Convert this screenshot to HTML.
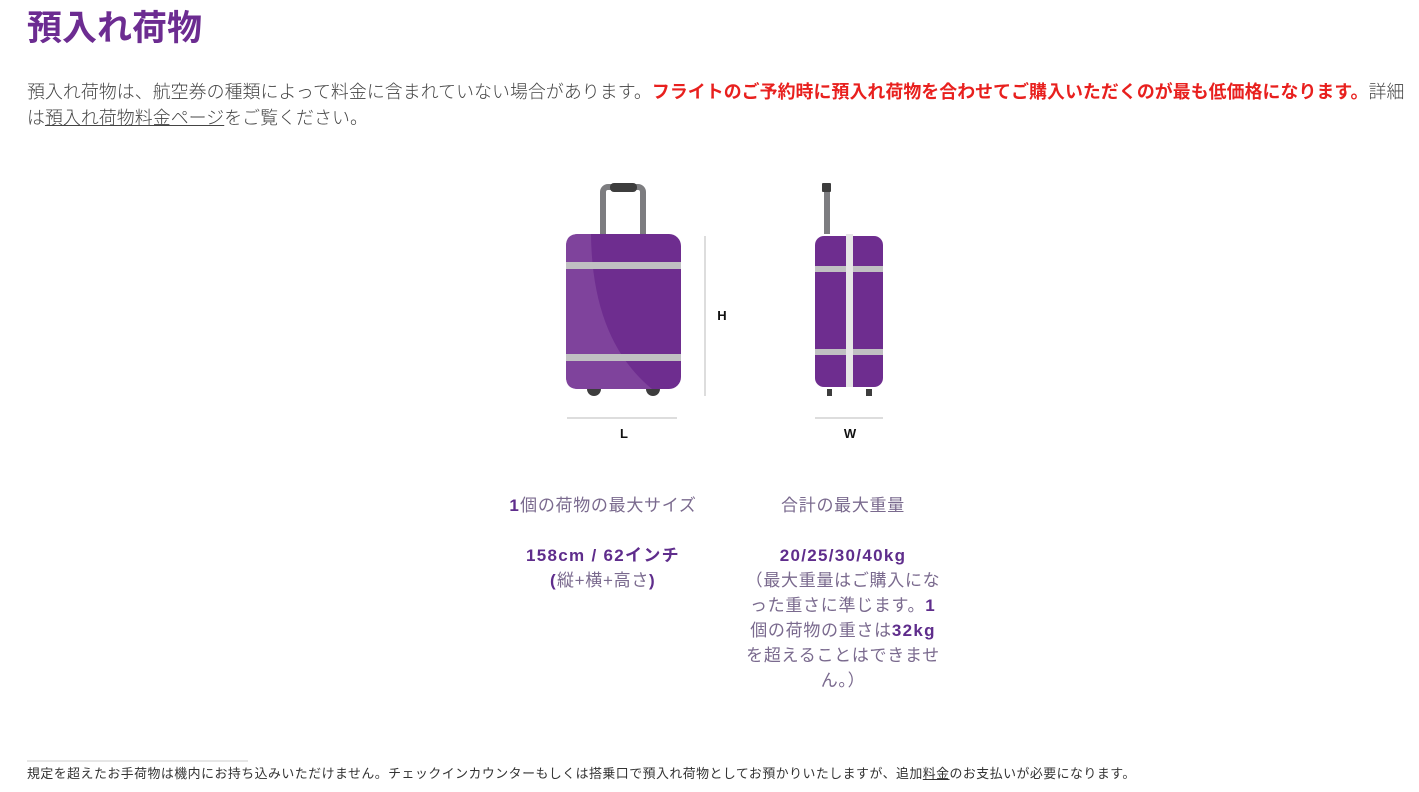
<!DOCTYPE html>
<html><head><meta charset="utf-8"><style>
body{margin:0;width:1419px;height:792px;background:#fff;font-family:"Liberation Sans","Noto Sans CJK JP",sans-serif;color:#444;position:relative;overflow:hidden}
.a{position:absolute;white-space:nowrap}
h1{position:absolute;left:27px;top:4px;margin:0;font-size:35px;color:#6c2c91;font-weight:bold;line-height:50px}
.p{left:27px;top:79px;font-size:17.9px;line-height:26px;font-weight:300;color:#444;letter-spacing:0.07px}
.red{color:#e8201e;font-weight:bold}
u{text-decoration:underline}
.col{position:absolute;text-align:center;font-size:17px;line-height:25px;color:#7a6a8e;letter-spacing:0.7px;white-space:nowrap}
.col b{color:#5f2d8c;letter-spacing:1.3px}
.f{left:27px;top:765px;font-size:12.9px;line-height:18px;color:#333;letter-spacing:0.5px}
</style></head><body>
<h1>預入れ荷物</h1>
<div class="a p">預入れ荷物は、航空券の種類によって料金に含まれていない場合があります。<span class="red">フライトのご予約時に預入れ荷物を合わせてご購入いただくのが最も低価格になります。</span>詳細<br>は<u>預入れ荷物料金ページ</u>をご覧ください。</div>
<svg class="a" style="left:0;top:0" width="1419" height="792">
<rect x="603" y="187" width="40" height="60" rx="5" fill="none" stroke="#7d7d80" stroke-width="6"/>
<rect x="610" y="183" width="27" height="9" rx="4" fill="#3d3d3d"/>
<circle cx="594" cy="389" r="7" fill="#3d3d3d"/><circle cx="653" cy="389" r="7" fill="#3d3d3d"/>
<rect x="566" y="234" width="115" height="155" rx="12" fill="#6e2d8f"/>
<path d="M578 234 L591 234 Q592 340 652 389 L578 389 Q566 389 566 377 L566 246 Q566 234 578 234Z" fill="#7f439c"/>
<rect x="566" y="262" width="115" height="7" fill="#c0c0c2"/>
<rect x="566" y="354" width="115" height="7" fill="#c0c0c2"/>
<line x1="705" y1="236" x2="705" y2="396" stroke="#bbb" stroke-width="1"/>
<line x1="567" y1="418" x2="677" y2="418" stroke="#bbb" stroke-width="1"/>
<text x="722" y="320" font-size="13" font-weight="bold" text-anchor="middle" fill="#111" font-family="Liberation Sans">H</text>
<text x="624" y="438" font-size="13" font-weight="bold" text-anchor="middle" fill="#111" font-family="Liberation Sans">L</text>
<rect x="824" y="188" width="6" height="46" fill="#7d7d80"/>
<rect x="822" y="183" width="9" height="9" rx="1" fill="#3d3d3d"/>
<rect x="827" y="389" width="5" height="7" fill="#3d3d3d"/><rect x="866" y="389" width="6" height="7" fill="#3d3d3d"/>
<rect x="815" y="236" width="68" height="151" rx="9" fill="#6e2d8f"/>
<rect x="815" y="266" width="68" height="6" fill="#c0c0c2"/>
<rect x="815" y="349" width="68" height="6" fill="#c0c0c2"/>
<rect x="846" y="234" width="7" height="153" fill="#e6e6e6"/>
<line x1="815" y1="418" x2="883" y2="418" stroke="#bbb" stroke-width="1"/>
<text x="850" y="438" font-size="13" font-weight="bold" text-anchor="middle" fill="#111" font-family="Liberation Sans">W</text>
<line x1="27" y1="761" x2="248" y2="761" stroke="#ccc" stroke-width="1"/>
</svg>
<div class="col" style="left:483px;top:493px;width:240px"><b>1</b>個の荷物の最大サイズ<br><br><b>158cm / 62インチ</b><br><b>(</b>縦+横+高さ<b>)</b></div>
<div class="col" style="left:723px;top:493px;width:240px">合計の最大重量<br><br><b>20/25/30/40kg</b><br>（最大重量はご購入にな<br>った重さに準じます。<b>1</b><br>個の荷物の重さは<b>32kg</b><br>を超えることはできませ<br>ん。）</div>
<div class="a f">規定を超えたお手荷物は機内にお持ち込みいただけません。チェックインカウンターもしくは搭乗口で預入れ荷物としてお預かりいたしますが、追加<u>料金</u>のお支払いが必要になります。</div>
</body></html>
